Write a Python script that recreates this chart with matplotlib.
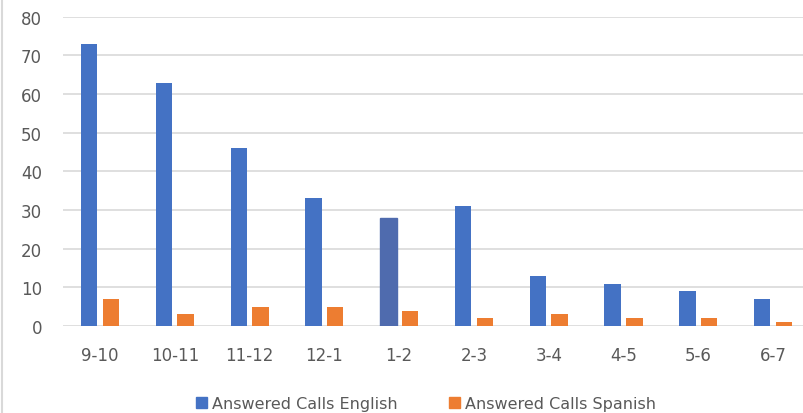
import numpy as np
import matplotlib.pyplot as plt
from matplotlib.lines import Line2D

hours = ["9-10", "10-11", "11-12", "12-1", "1-2", "2-3", "3-4", "4-5", "5-6", "6-7"]
english = [73, 63, 46, 33, 28, 31, 13, 11, 9, 7]
spanish = [7, 3, 5, 5, 4, 2, 3, 2, 2, 1]

blue = "#4472C4"
orange = "#ED7D31"
grey = "#595959"

fig = plt.figure(figsize=(8.04, 4.14), dpi=100)
ax = fig.add_axes([0.078, 0.21, 0.93, 0.747])

x = np.arange(len(hours))
w = 0.22
gap = 0.035
b1 = ax.bar(x - w / 2 - gap, english, w, color=blue, label="Answered Calls English", zorder=3)
b1[4].set_color("#4F6BAE")
ax.bar(x + w / 2 + gap, spanish, w, color=orange, label="Answered Calls Spanish", zorder=3)

ax.set_xlim(-0.5, len(hours) - 0.5)
ax.set_ylim(0, 80)
ax.set_yticks(range(0, 81, 10))
ax.set_xticks(x)
ax.set_xticklabels(hours)
ax.grid(axis="y", color="#D9D9D9", linewidth=1.2, zorder=0)
for s in ax.spines.values():
    s.set_visible(False)
ax.tick_params(axis="both", length=0, labelsize=12, colors=grey)
ax.tick_params(axis="y", pad=15)
ax.tick_params(axis="x", pad=14)

handles = [plt.Rectangle((0, 0), 1, 1, color=blue), plt.Rectangle((0, 0), 1, 1, color=orange)]
fig.legend(handles, ["Answered Calls English", "Answered Calls Spanish"],
           loc="lower center", bbox_to_anchor=(0.53, -0.03), ncol=2, frameon=False,
           fontsize=11.5, labelcolor=grey, handlelength=0.7, handleheight=0.7,
           handletextpad=0.3, columnspacing=3.2)

fig.add_artist(Line2D([0.003, 0.003], [0, 1], transform=fig.transFigure, color="#D9D9D9", linewidth=1.5))

fig.savefig("out.png", dpi=100)
